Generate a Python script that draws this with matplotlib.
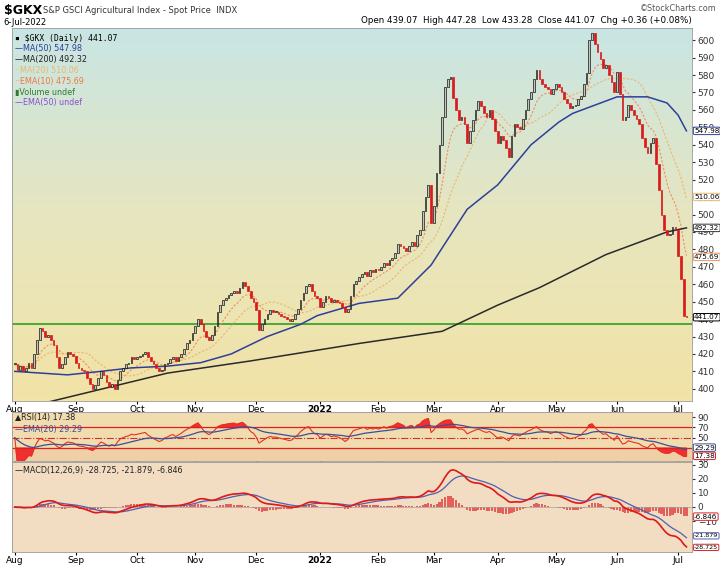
import numpy as np
import pandas as pd
import matplotlib
matplotlib.use("Agg")
import matplotlib.pyplot as plt
from matplotlib.colors import LinearSegmentedColormap

# ---- data (daily closes) ----
aug21 = [414,411,413,410,412,415,412,420,428,435,433,430,431,428,425,418,412,414,418,421,420,419]
sep21 = [415,412,411,410,406,403,400,402,406,410,408,404,401,403,400,405,410,412,414,415,418,417]
oct21 = [418,419,420,421,418,416,414,412,410,411,414,415,417,418,416,418,420,423,426,428,432]
nov21 = [436,440,437,433,430,428,431,436,444,448,451,452,454,455,456,455,458,461,459,456,452,450]
dec21 = [445,434,437,440,443,445,444,444,443,442,441,440,439,440,443,446,451,455,459,460,456,453,452]
jan22 = [447,450,453,452,450,451,450,449,447,444,446,453,460,462,464,466,467,465,468,467,469]
feb22 = [468,470,472,471,474,475,478,483,482,481,479,482,484,482,488,491,502,510,517,495]
mar22 = [505,524,540,556,573,578,579,567,560,554,556,552,541,548,554,560,565,562,558,556,560,555,548]
apr22 = [541,545,543,538,533,545,552,550,549,555,560,566,570,578,583,578,575,573,572,569,572]
may22 = [575,573,570,566,564,561,562,563,566,568,575,581,600,604,598,593,589,584,586,580,576,570]
jun22 = [582,569,554,556,563,560,557,555,552,544,539,535,541,544,529,514,500,491,488,489,493,491]
jul22 = [476,463,442,441.07]

# long moving averages (need history before the window): (trading-day index, value)
ma50_idx = [0, 19, 31, 42, 55, 67, 78, 91, 103, 109, 124, 138, 150, 163, 174, 186, 196, 201, 217, 228, 235, 239, 242]
ma50_val = [410, 408, 410, 412, 413, 415, 420, 430, 437, 442, 449, 452, 471, 503, 517, 540, 553, 558, 567.5, 567.5, 564, 557, 547.98]
ma200_idx = [0, 11, 55, 85, 124, 154, 174, 189, 213, 235, 242]
ma200_val = [386, 392, 409, 416, 426, 433, 448, 458, 477, 490, 492.32]

closes = aug21+sep21+oct21+nov21+dec21+jan22+feb22+mar22+apr22+may22+jun22+jul22
months = [("Aug", aug21), ("Sep", sep21), ("Oct", oct21), ("Nov", nov21), ("Dec", dec21),
          ("2022", jan22), ("Feb", feb22), ("Mar", mar22), ("Apr", apr22), ("May", may22),
          ("Jun", jun22), ("Jul", jul22)]

s = pd.Series(closes, dtype=float)
n = len(s)
x = np.arange(n)
opens = s.shift(1).fillna(s.iloc[0]).values
ma20 = s.rolling(20, min_periods=1).mean()
ema10 = s.ewm(span=10, adjust=False).mean()

d = s.diff()
up = d.clip(lower=0).ewm(alpha=1/14, adjust=False).mean()
dn = (-d.clip(upper=0)).ewm(alpha=1/14, adjust=False).mean()
rsi = (100 - 100/(1+up/dn.replace(0, np.nan))).fillna(50)
rsi_ema = rsi.ewm(span=20, adjust=False).mean()
macd = s.ewm(span=12, adjust=False).mean() - s.ewm(span=26, adjust=False).mean()
sig = macd.ewm(span=9, adjust=False).mean()
hist = macd - sig

tick_pos = []
p = 0
for name, m in months:
    tick_pos.append(p); p += len(m)
tick_lab = [m[0] for m in months]

# ---- figure ----
fig = plt.figure(figsize=(7.2, 5.76), dpi=100)
W, H = 720, 576
L, R = 12/W, 692/W
def ax_at(top, bot):
    return fig.add_axes([L, 1-bot/H, R-L, (bot-top)/H])
ax = ax_at(28, 401)
ar = ax_at(412, 461)
am = ax_at(462, 552)

xl = (-1, n+1)
cmap = LinearSegmentedColormap.from_list("bg", ["#c9e5e3", "#e6e6c0", "#f2e3a6"])
ax.imshow(np.linspace(0, 1, 100).reshape(-1, 1), aspect="auto", cmap=cmap,
          extent=[xl[0], xl[1], 393, 607], origin="upper", zorder=0)
ax.set_xlim(*xl); ax.set_ylim(393, 607)

ax.axhline(437, color="#3aa52a", lw=1.3, zorder=2)
for i in range(n):
    o, c = opens[i], closes[i]
    lo, hi = min(o, c), max(o, c)
    if hi - lo < 0.6: hi = lo + 0.6
    if c >= o:
        ax.bar(i, hi-lo, bottom=lo, width=0.6, facecolor="#c4c4bc", edgecolor="black", lw=0.45, zorder=4)
    else:
        ax.bar(i, hi-lo, bottom=lo, width=0.6, facecolor="#e0181c", edgecolor="#d01010", lw=0.45, zorder=4)
ax.plot(x, ema10, color="#f0905a", lw=0.8, ls=(0, (2, 1.5)), zorder=3)
ax.plot(x, ma20, color="#e8b870", lw=0.8, ls=(0, (2, 1.5)), zorder=3)
ax.plot(ma50_idx, ma50_val, color="#2e3f9a", lw=1.1, zorder=3)
ax.plot(ma200_idx, ma200_val, color="#2a2a2a", lw=1.1, zorder=3)

for a in (ax, ar, am):
    a.yaxis.tick_right()
    a.tick_params(axis="y", labelsize=6.5, length=2, pad=2, colors="#333333")
    a.set_xticks(tick_pos)
    a.tick_params(axis="x", length=2, labelsize=6.5, pad=1)
    for sp in a.spines.values():
        sp.set_color("#999999"); sp.set_linewidth(0.6)
    a.set_xlim(*xl)

ax.set_yticks(range(400, 601, 10))
ax.set_xticklabels(tick_lab)
ar.set_xticklabels([])
am.set_xticklabels(tick_lab)
for a in (ax, am):
    for t in a.get_xticklabels():
        if t.get_text() == "2022": t.set_fontweight("bold")

def tag(a, y, txt, ec, fs=5.2):
    a.text(1.003, y, txt, transform=a.get_yaxis_transform(), fontsize=fs, va="center", ha="left",
           bbox=dict(boxstyle="round,pad=0.1,rounding_size=0.2", fc="white", ec=ec, lw=0.7),
           zorder=10, clip_on=False)
tag(ax, 547.98, "547.98", "#2e3f9a")
tag(ax, 510.06, "510.06", "#e8b870")
tag(ax, 492.32, "492.32", "#333333")
tag(ax, 475.69, "475.69", "#f0905a")
tag(ax, 441.07, "441.07", "black")

leg = [("\u25aa $GKX (Daily) 441.07", "black", "DejaVu Sans Mono"),
       ("\u2014MA(50) 547.98", "#2e3f9a", None), ("\u2014MA(200) 492.32", "#222222", None),
       ("\u00b7\u00b7MA(20) 510.06", "#e8b870", None), ("\u00b7\u00b7EMA(10) 475.69", "#f07840", None),
       ("\u25aeVolume undef", "#2e7d2e", None), ("\u2014EMA(50) undef", "#8a4fd0", None)]
for k, (t, c, f) in enumerate(leg):
    ax.text(0.005, 0.985 - k*0.029, t, transform=ax.transAxes, fontsize=5.8, color=c, va="top",
            family=f if f else "DejaVu Sans")

fig.text(0.005, 0.993, "$GKX", fontsize=9, fontweight="bold", va="top")
fig.text(0.06, 0.989, "S&P GSCI Agricultural Index - Spot Price  INDX", fontsize=6, va="top", color="#333333")
fig.text(0.005, 0.968, "6-Jul-2022", fontsize=6, va="top")
fig.text(0.995, 0.993, "\u00a9StockCharts.com", fontsize=5.8, va="top", ha="right", color="#555555")
fig.text(R, 0.972, "Open 439.07  High 447.28  Low 433.28  Close 441.07  Chg +0.36 (+0.08%)", fontsize=6.3,
         va="top", ha="right")

# RSI
ar.set_facecolor("#f0dcae")
ar.set_ylim(5, 100)
ar.axhspan(5, 30, color="#efcfa6", zorder=0)
ar.axhline(70, color="#e02020", lw=0.9)
ar.axhline(30, color="#e02020", lw=0.9)
ar.axhline(50, color="#d03030", lw=0.8, ls="-.")
ar.plot(x, rsi, color="#e83020", lw=0.8)
ar.plot(x, rsi_ema, color="#3c4f9a", lw=0.9)
ar.fill_between(x, rsi, 70, where=rsi > 70, color="#f03030", interpolate=True)
ar.fill_between(x, rsi, 30, where=rsi < 30, color="#f03030", interpolate=True)
ar.set_yticks([10, 30, 50, 70, 90])
ar.text(0.005, 0.97, "\u25b2RSI(14) 17.38", transform=ar.transAxes, fontsize=5.8, va="top", color="#222")
ar.text(0.005, 0.74, "\u2014EMA(20) 29.29", transform=ar.transAxes, fontsize=5.8, va="top", color="#3c4f9a")
tag(ar, 31, "29.29", "#3c4f9a")
tag(ar, 15, "17.38", "#e02020")

# MACD
am.set_facecolor("#f2dcc2")
am.set_ylim(-32, 32)
am.axhline(0, color="#a0a0a0", lw=0.5)
am.bar(x, hist, width=0.8, color="#e04040", alpha=0.8)
am.plot(x, sig, color="#5060b0", lw=0.9)
am.plot(x, macd, color="#e01818", lw=1.2)
am.set_yticks([-10, 0, 10, 20, 30])
am.text(0.005, 0.95, "\u2014MACD(12,26,9) -28.725, -21.879, -6.846", transform=am.transAxes, fontsize=5.8,
        va="top", color="#222")
tag(am, -6.846, "-6.846", "#e02020")
tag(am, -20.5, "-21.879", "#5060b0", 4.6)
tag(am, -28.725, "-28.725", "#e02020", 4.6)

fig.savefig("out.png", dpi=100)
